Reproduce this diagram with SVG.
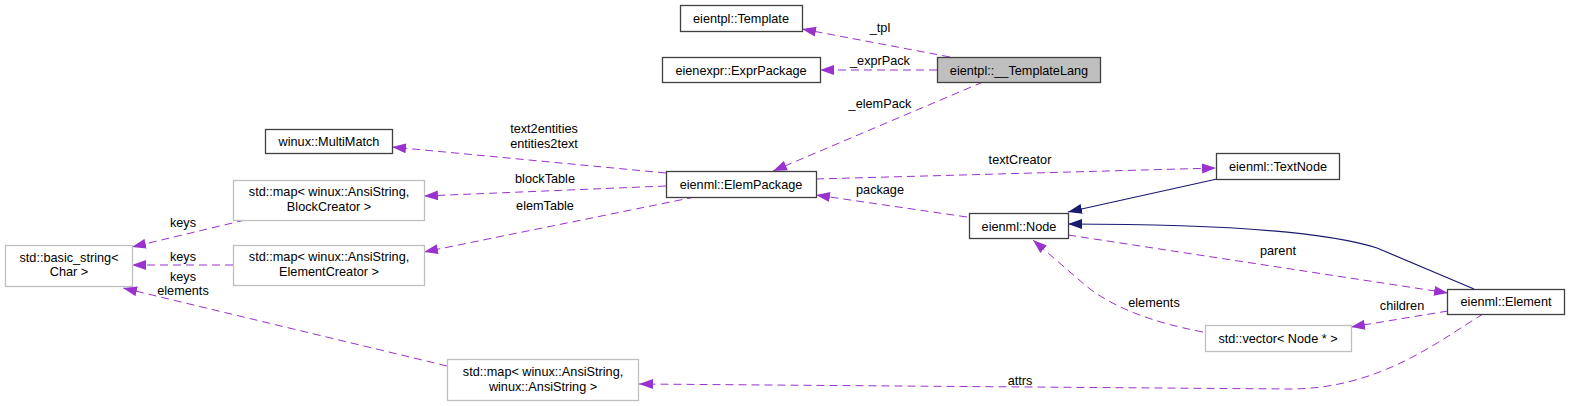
<svg xmlns="http://www.w3.org/2000/svg" width="1569" height="406" viewBox="0 0 1569 406">
<style>
text{font-family:"Liberation Sans",Arial,sans-serif;font-size:12.7px;fill:#000;text-anchor:middle}
.b{fill:#fff;stroke:#404040;stroke-width:1.3}
.g{fill:#fff;stroke:#bfbfbf;stroke-width:1.3}
.s{fill:#bfbfbf;stroke:#404040;stroke-width:1.3}
.e{fill:none;stroke:#9a32cd;stroke-width:1;stroke-dasharray:8,5;marker-end:url(#ap)}
.n{fill:none;stroke:#191970;stroke-width:1.2;marker-end:url(#an)}
</style>
<defs>
<marker id="ap" markerUnits="userSpaceOnUse" markerWidth="15" markerHeight="11" refX="14" refY="5.5" orient="auto"><path d="M0,0.5 L14,5.5 L0,10.5 z" fill="#9a32cd"/></marker>
<marker id="an" markerUnits="userSpaceOnUse" markerWidth="15" markerHeight="11" refX="14" refY="5.5" orient="auto"><path d="M0,0.5 L14,5.5 L0,10.5 z" fill="#191970"/></marker>
</defs>
<rect width="1569" height="406" fill="#fff"/>
<g id="edges">
<path class="e" d="M950,57 L802,29"/><text x="880" y="32">_tpl</text>
<path class="e" d="M937,70 L820,70"/><text x="880" y="65">_exprPack</text>
<path class="e" d="M983,82 L773,171"/><text x="880" y="108">_elemPack</text>
<path class="e" d="M666,173 L392,147"/><text x="544" y="133">text2entities</text><text x="544" y="148">entities2text</text>
<path class="e" d="M666,186 L424,196"/><text x="545" y="183">blockTable</text>
<path class="e" d="M695,197 L424,252"/><text x="545" y="210">elemTable</text>
<path class="e" d="M816,179 L1216,168"/><text x="1020" y="164">textCreator</text>
<path class="e" d="M967,217 L816,195"/><text x="880" y="194">package</text>
<path class="n" d="M1217,179 L1068,212"/>
<path class="n" d="M1474,289 L1377,248 C1320,230 1200,224 1068,224"/>
<path class="e" d="M1068,235 L1448,293"/><text x="1278" y="255">parent</text>
<path class="e" d="M1448,311 L1351,327"/><text x="1402" y="310">children</text>
<path class="e" d="M1203,332 C1150,322 1110,306 1085,285 L1033,240"/><text x="1154" y="307">elements</text>
<path class="e" d="M1483,314 C1440,340 1380,389 1290,389 L639,384"/><text x="1020" y="385">attrs</text>
<path class="e" d="M245,220 L132,247"/><text x="183" y="227">keys</text>
<path class="e" d="M233,265 L132,265"/><text x="183" y="261">keys</text>
<path class="e" d="M447,366 L123,288"/><text x="183" y="281">keys</text><text x="183" y="295">elements</text>
</g>
<g id="n_tpl"><rect class="b" x="680.5" y="5.5" width="122" height="26"/><text x="741" y="23">eientpl::Template</text></g>
<g id="n_expr"><rect class="b" x="662.5" y="57.5" width="158" height="25"/><text x="741" y="74.5">eienexpr::ExprPackage</text></g>
<g id="n_lang"><rect class="s" x="937.5" y="57.5" width="163" height="25"/><text x="1019" y="74.5">eientpl::__TemplateLang</text></g>
<g id="n_mm"><rect class="b" x="265.5" y="129.5" width="127" height="24"/><text x="329" y="146">winux::MultiMatch</text></g>
<g id="n_bc"><rect class="g" x="233.5" y="180.5" width="191" height="40"/><text x="329" y="196">std::map&lt; winux::AnsiString,</text><text x="329" y="211">BlockCreator &gt;</text></g>
<g id="n_ec"><rect class="g" x="233.5" y="245.5" width="191" height="40"/><text x="329" y="261">std::map&lt; winux::AnsiString,</text><text x="329" y="276">ElementCreator &gt;</text></g>
<g id="n_ep"><rect class="b" x="666.5" y="171.5" width="150" height="26"/><text x="741" y="189">eienml::ElemPackage</text></g>
<g id="n_node"><rect class="b" x="969.5" y="213.5" width="99" height="25"/><text x="1019" y="230.5">eienml::Node</text></g>
<g id="n_tn"><rect class="b" x="1216.5" y="153.5" width="123" height="26"/><text x="1278" y="171">eienml::TextNode</text></g>
<g id="n_el"><rect class="b" x="1447.5" y="289.5" width="117" height="25"/><text x="1506" y="306">eienml::Element</text></g>
<g id="n_vec"><rect class="g" x="1205.5" y="325.5" width="146" height="26"/><text x="1278" y="343">std::vector&lt; Node * &gt;</text></g>
<g id="n_bs"><rect class="g" x="5.5" y="245.5" width="127" height="41"/><text x="69" y="262">std::basic_string&lt;</text><text x="69" y="276">Char &gt;</text></g>
<g id="n_aa"><rect class="g" x="447.5" y="359.5" width="191" height="41"/><text x="543" y="376">std::map&lt; winux::AnsiString,</text><text x="543" y="391">winux::AnsiString &gt;</text></g>
</svg>
